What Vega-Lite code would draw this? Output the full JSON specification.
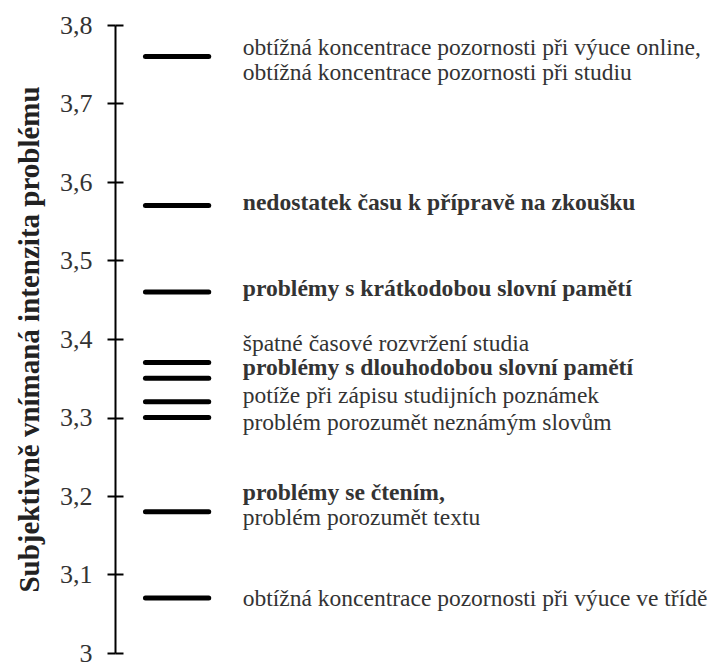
{
  "$schema": "https://vega.github.io/schema/vega-lite/v6.json",
  "width": 597,
  "height": 628,
  "autosize": "none",
  "padding": {"left": 115, "top": 25, "right": 0, "bottom": 9},
  "background": "white",
  "config": {"view": {"stroke": null}, "font": "'Liberation Serif', 'Times New Roman', Times, serif"},
  "datasets": {
    "items": [
      {"item": "obtížná koncentrace pozornosti při výuce online / při studiu", "value": 3.76},
      {"item": "nedostatek času k přípravě na zkoušku", "value": 3.57},
      {"item": "problémy s krátkodobou slovní pamětí", "value": 3.46},
      {"item": "špatné časové rozvržení studia", "value": 3.37},
      {"item": "problémy s dlouhodobou slovní pamětí", "value": 3.35},
      {"item": "potíže při zápisu studijních poznámek", "value": 3.32},
      {"item": "problém porozumět neznámým slovům", "value": 3.30},
      {"item": "problémy se čtením, problém porozumět textu", "value": 3.18},
      {"item": "obtížná koncentrace pozornosti při výuce ve třídě", "value": 3.07}
    ],
    "labels": [
      {"text": "obtížná koncentrace pozornosti při výuce online,", "position": 3.771, "bold": false},
      {"text": "obtížná koncentrace pozornosti při studiu", "position": 3.739, "bold": false},
      {"text": "nedostatek času k přípravě na zkoušku", "position": 3.573, "bold": true},
      {"text": "problémy s krátkodobou slovní pamětí", "position": 3.464, "bold": true},
      {"text": "špatné časové rozvržení studia", "position": 3.394, "bold": false},
      {"text": "problémy s dlouhodobou slovní pamětí", "position": 3.363, "bold": true},
      {"text": "potíže při zápisu studijních poznámek", "position": 3.327, "bold": false},
      {"text": "problém porozumět neznámým slovům", "position": 3.293, "bold": false},
      {"text": "problémy se čtením,", "position": 3.204, "bold": true},
      {"text": "problém porozumět textu", "position": 3.172, "bold": false},
      {"text": "obtížná koncentrace pozornosti při výuce ve třídě", "position": 3.069, "bold": false}
    ]
  },
  "layer": [
    {
      "data": {"name": "items"},
      "mark": {"type": "rule", "strokeWidth": 5, "strokeCap": "round", "color": "black"},
      "encoding": {
        "y": {
          "field": "value",
          "type": "quantitative",
          "scale": {"domain": [3, 3.8], "nice": false, "zero": false},
          "axis": {
            "orient": "left",
            "values": [3, 3.1, 3.2, 3.3, 3.4, 3.5, 3.6, 3.7, 3.8],
            "labelExpr": "replace(format(datum.value, '.1~f'), '.', ',')",
            "grid": false,
            "domainColor": "black",
            "domainWidth": 2,
            "tickColor": "black",
            "tickWidth": 2,
            "tickSize": 8,
            "labelFont": "'Liberation Serif', 'Times New Roman', Times, serif",
            "labelFontSize": 26,
            "labelColor": "#333333",
            "labelPadding": 15,
            "title": "Subjektivně vnímaná intenzita problému",
            "titleFont": "'Liberation Serif', 'Times New Roman', Times, serif",
            "titleFontSize": 29,
            "titleFontWeight": "bold",
            "titleColor": "#222222",
            "titlePadding": 15
          }
        },
        "x": {"datum": 5.1, "type": "quantitative", "scale": {"domain": [0, 100], "nice": false}, "axis": null},
        "x2": {"datum": 15.7}
      }
    },
    {
      "data": {"name": "labels"},
      "transform": [{"filter": "!datum.bold"}],
      "mark": {"type": "text", "align": "left", "baseline": "middle", "font": "'Liberation Serif', 'Times New Roman', Times, serif", "fontSize": 23.5, "fontWeight": "normal", "color": "#333333"},
      "encoding": {
        "y": {
          "field": "position",
          "type": "quantitative",
          "axis": {
            "orient": "left",
            "values": [3, 3.1, 3.2, 3.3, 3.4, 3.5, 3.6, 3.7, 3.8],
            "labels": false,
            "domain": false,
            "grid": false,
            "tickSize": -8,
            "tickColor": "black",
            "tickWidth": 2,
            "title": null
          }
        },
        "x": {"datum": 21.4, "type": "quantitative"},
        "text": {"field": "text"}
      }
    },
    {
      "data": {"name": "labels"},
      "transform": [{"filter": "datum.bold"}],
      "mark": {"type": "text", "align": "left", "baseline": "middle", "font": "'Liberation Serif', 'Times New Roman', Times, serif", "fontSize": 23.6, "fontWeight": "bold", "color": "#333333"},
      "encoding": {
        "y": {"field": "position", "type": "quantitative", "axis": null},
        "x": {"datum": 21.4, "type": "quantitative"},
        "text": {"field": "text"}
      }
    }
  ],
  "resolve": {"axis": {"y": "independent"}}
}
